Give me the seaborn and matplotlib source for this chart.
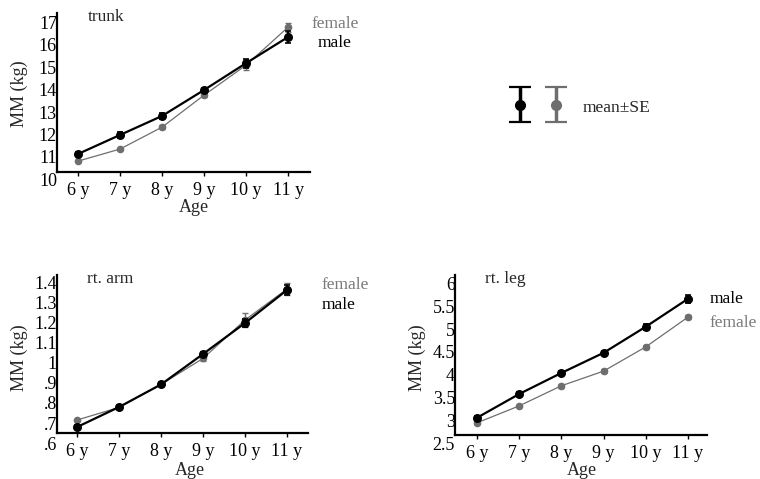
import pandas as pd
import numpy as np
import matplotlib
matplotlib.use('Agg')
import matplotlib.pyplot as plt
import seaborn as sns

ages = [6, 7, 8, 9, 10, 11]
age_labels = ['6 y', '7 y', '8 y', '9 y', '10 y', '11 y']

trunk_male = [11.13, 11.98, 12.83, 13.99, 15.19, 16.36]
trunk_male_se = [0.08, 0.12, 0.15, 0.1, 0.2, 0.25]
trunk_female = [10.81, 11.35, 12.33, 13.76, 15.1, 16.8]
trunk_female_se = [0.05, 0.06, 0.1, 0.08, 0.22, 0.2]

arm_male = [0.68, 0.78, 0.893, 1.045, 1.2, 1.365]
arm_male_se = [0.008, 0.008, 0.01, 0.012, 0.02, 0.025]
arm_female = [0.715, 0.778, 0.893, 1.023, 1.215, 1.37]
arm_female_se = [0.006, 0.006, 0.008, 0.015, 0.035, 0.03]

leg_male = [3.06, 3.58, 4.04, 4.48, 5.05, 5.66]
leg_male_se = [0.04, 0.04, 0.05, 0.05, 0.07, 0.09]
leg_female = [2.95, 3.32, 3.76, 4.08, 4.61, 5.26]
leg_female_se = [0.03, 0.03, 0.04, 0.04, 0.05, 0.05]

BLACK = 'black'
GRAY = '#6e6e6e'

sns.set_style('ticks')
plt.rcParams['font.family'] = ['Liberation Serif', 'DejaVu Serif']

fig = plt.figure(figsize=(7.6, 4.79), dpi=100)


def panel(rect, male, male_se, female, female_se, title, xlim, ylim, spine_y,
          yticks, yticklabels, xlab_x, xlab_y):
    ax = fig.add_axes(rect)
    df = pd.DataFrame({'age': ages * 2,
                       'mm': female + male,
                       'sex': ['female'] * 6 + ['male'] * 6})
    sns.lineplot(data=df[df.sex == 'female'], x='age', y='mm', color=GRAY,
                 marker='o', markersize=5.5, markeredgewidth=0, linewidth=0.9,
                 errorbar=None, ax=ax, zorder=3)
    ax.errorbar(ages, female, yerr=female_se, fmt='none', ecolor=GRAY,
                elinewidth=1, capsize=2, capthick=1, zorder=3)
    sns.lineplot(data=df[df.sex == 'male'], x='age', y='mm', color=BLACK,
                 marker='o', markersize=6.5, markeredgewidth=0, linewidth=1.6,
                 errorbar=None, ax=ax, zorder=4)
    ax.errorbar(ages, male, yerr=male_se, fmt='none', ecolor=BLACK,
                elinewidth=1.5, capsize=2, capthick=1.2, zorder=4)

    # spines first: moving a spine resets its axis ticks
    for s in ['top', 'right']:
        ax.spines[s].set_visible(False)
    ax.spines['bottom'].set_position(('data', spine_y))
    ax.spines['left'].set_bounds(spine_y, ylim[1])
    for s in ['left', 'bottom']:
        ax.spines[s].set_linewidth(1.6)
        ax.spines[s].set_color('black')
    ax.patch.set_alpha(0)

    ax.set_xlim(*xlim)
    ax.set_ylim(*ylim)
    ax.set_xticks(ages)
    ax.set_xticklabels(age_labels)
    ax.set_yticks(yticks)
    ax.set_yticklabels(yticklabels)
    ax.tick_params(axis='x', length=3, width=1, pad=4, direction='out',
                   colors='black', labelsize=13)
    ax.tick_params(axis='y', length=0, pad=0, colors='black', labelsize=13)

    ax.set_xlabel('Age', fontsize=13)
    ax.set_ylabel('MM (kg)', fontsize=13)
    ax.yaxis.set_label_coords(-0.115, 0.52)
    ax.xaxis.set_label_coords(xlab_x, xlab_y)
    ax.text(0.12, 0.975, title, transform=ax.transAxes, fontsize=12.5,
            va='center', ha='left')
    return ax


W, H = 760, 479


def rect(left, right, top, bottom):
    return [left / W, 1 - bottom / H, (right - left) / W, (bottom - top) / H]


panel(rect(57, 310, 13, 181.5), trunk_male, trunk_male_se, trunk_female, trunk_female_se,
      'trunk', (5.5, 11.52), (9.9, 17.43), 10.32,
      [10, 11, 12, 13, 14, 15, 16, 17], ['10', '11', '12', '13', '14', '15', '16', '17'],
      0.54, -0.105)
panel(rect(57, 308, 275, 447), arm_male, arm_male_se, arm_female, arm_female_se,
      'rt. arm', (5.52, 11.5), (0.58, 1.44), 0.65,
      [0.6, 0.7, 0.8, 0.9, 1.0, 1.1, 1.2, 1.3, 1.4],
      ['.6', '.7', '.8', '.9', '1', '1.1', '1.2', '1.3', '1.4'], 0.53, -0.085)
panel(rect(455, 707, 275, 447.1), leg_male, leg_male_se, leg_female, leg_female_se,
      'rt. leg', (5.48, 11.45), (2.42, 6.18), 2.68,
      [2.5, 3, 3.5, 4, 4.5, 5, 5.5, 6],
      ['2.5', '3', '3.5', '4', '4.5', '5', '5.5', '6'], 0.503, -0.085)

# series labels
fig.text(312 / W, 1 - 24 / H, 'female', color='#7a7a7a', fontsize=12.5, va='center')
fig.text(318 / W, 1 - 43 / H, 'male', color='black', fontsize=12.5, va='center')
fig.text(322 / W, 1 - 285 / H, 'female', color='#7a7a7a', fontsize=12.5, va='center')
fig.text(322 / W, 1 - 305 / H, 'male', color='black', fontsize=12.5, va='center')
fig.text(710 / W, 1 - 299 / H, 'male', color='black', fontsize=12.5, va='center')
fig.text(710 / W, 1 - 323 / H, 'female', color='#7a7a7a', fontsize=12.5, va='center')

# mean +/- SE key
key = fig.add_axes(rect(502, 574, 82, 127.5))
key.errorbar([0], [0], yerr=[1], fmt='o', color=BLACK, markersize=7,
             elinewidth=2.5, capsize=8, capthick=1.6)
key.errorbar([1], [0], yerr=[1], fmt='o', color=GRAY, markersize=7,
             elinewidth=2.5, capsize=8, capthick=1.6)
key.set_xlim(-0.5, 1.5)
key.set_ylim(-1.3, 1.3)
key.axis('off')
fig.text(583 / W, 1 - 108 / H, 'mean\u00b1SE', fontsize=12.5, va='center')

fig.savefig('out.png', dpi=100)
